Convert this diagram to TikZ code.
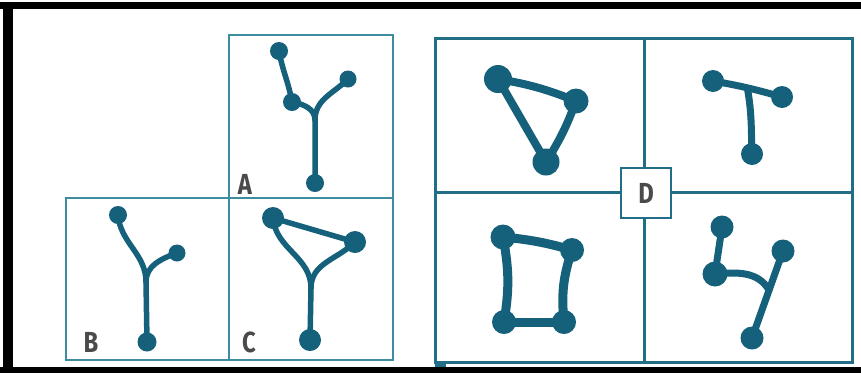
\documentclass[tikz,border=0pt]{standalone}
\usepackage{fontspec}
\setsansfont{Fira Sans}
\usepackage{graphicx}
\usepackage{tikz}
\usetikzlibrary{calc}
\definecolor{graphc}{HTML}{15607A}
\definecolor{framec}{HTML}{3D8C9F}
\definecolor{gridc}{HTML}{226E86}
\definecolor{letterc}{HTML}{4A4A4A}
\newcommand{\narrow}[1]{\scalebox{0.82}[1]{#1}}

\begin{document}
\begin{tikzpicture}[x=1pt, y=-1pt,
    dot/.style={circle, fill=graphc, inner sep=0pt, minimum size=#1},
    edge/.style={draw=graphc, line width=#1, line cap=round},
    edge/.default=5.5pt,
    letter/.style={font=\sffamily\bfseries\fontsize{29}{29}\selectfont, text=letterc, inner sep=0pt}]
    \useasboundingbox (0,0) rectangle (861,373);
    \fill[white] (0,0) rectangle (861,373);
    \fill[black] (0,2) rectangle (861,9);
    \fill[black] (3,2) rectangle (13,373);
    \fill[black] (0,367) rectangle (861,373);

    % left boxes
    \draw[framec, line width=2pt] (229,35) rectangle (393,198);
    \draw[framec, line width=2pt] (66,198) rectangle (229,360);
    \draw[framec, line width=2pt] (229,198) rectangle (393,360);
    \node[letter] (lA) at (245,184) {\narrow{A}};
    \node[letter] (lB) at (91,342) {\narrow{B}};
    \node[letter] (lC) at (249,342) {\narrow{C}};

    % A
    \node[dot=18pt] (a1) at (279,51) {};
    \node[dot=18pt] (a2) at (292,102) {};
    \node[dot=17pt] (a3) at (348,79) {};
    \node[dot=18pt] (a4) at (315,183) {};
    \coordinate (ja) at (315,120);
    \draw[edge] (a1.center) to[out=-80,in=100] (a2.center);
    \draw[edge] (a2.center) to[out=-10,in=90] (ja) -- (a4.center);
    \draw[edge] (a3.center) to[out=225,in=90] (ja);

    % B
    \node[dot=18pt] (b1) at (118,215) {};
    \node[dot=17pt] (b2) at (177,253) {};
    \node[dot=19pt] (b3) at (147,342) {};
    \coordinate (jb) at (146,282);
    \draw[edge] (b1.center) to[out=-85,in=90] (jb) -- (b3.center);
    \draw[edge] (b2.center) to[out=200,in=90] (jb);

    % C
    \node[dot=22pt] (c1) at (273,218) {};
    \node[dot=22pt] (c2) at (355,242) {};
    \node[dot=22pt] (c3) at (310,340) {};
    \coordinate (jc) at (311,288);
    \draw[edge] (c1.center) -- (c2.center);
    \draw[edge] (c1.center) to[out=-85,in=90] (jc) -- (c3.center);
    \draw[edge] (c2.center) to[out=225,in=90] (jc);

    % D grid
    \draw[gridc, line width=3pt] (435,38) rectangle (852,362);
    \draw[gridc, line width=3pt] (644,38) -- (644,362);
    \draw[gridc, line width=3pt] (435,192) -- (852,192);
    \fill[gridc] (435,362) rectangle (446,367);
    \node[letter, draw=gridc, fill=white, line width=2.5pt, minimum size=50pt] (dbox) at (646,193) {\narrow{D}};

    % D top left
    \node[dot=28pt] (d1) at (498,79) {};
    \node[dot=25pt] (d2) at (576,101) {};
    \node[dot=27pt] (d3) at (546,162) {};
    \draw[edge=8pt] (d1.center) to[bend left=6] (d2.center);
    \draw[edge=8pt] (d2.center) to[bend left=6] (d3.center);
    \draw[edge=8pt] (d1.center) -- (d3.center);

    % D top right
    \node[dot=22pt] (e1) at (713,81) {};
    \node[dot=22pt] (e2) at (782,97) {};
    \node[dot=22pt] (e3) at (752,154) {};
    \coordinate (je) at ($(e1)!0.5!(e2)$);
    \draw[edge=7pt] (e1.center) to[bend left=3] (e2.center);
    \draw[edge=7pt] (je) to[out=-80,in=92] (e3.center);

    % D bottom left
    \node[dot=25pt] (f1) at (503,237) {};
    \node[dot=24pt] (f2) at (572,250) {};
    \node[dot=24pt] (f3) at (564,322) {};
    \node[dot=24pt] (f4) at (504,322) {};
    \draw[edge=9pt] (f1.center) to[bend left=5] (f2.center);
    \draw[edge=9pt] (f2.center) to[bend right=12] (f3.center);
    \draw[edge=9pt] (f3.center) -- (f4.center);
    \draw[edge=9pt] (f4.center) to[bend right=10] (f1.center);

    % D bottom right
    \node[dot=23pt] (g1) at (722,227) {};
    \node[dot=25pt] (g2) at (715,274) {};
    \node[dot=23pt] (g3) at (783,251) {};
    \node[dot=23pt] (g4) at (752,338) {};
    \coordinate (jg) at ($(g3)!0.45!(g4)$);
    \draw[edge=7pt] (g1.center) -- (g2.center);
    \draw[edge=7pt] (g3.center) -- (g4.center);
    \draw[edge=7pt] (g2.center) to[out=5,in=120] (jg);
\end{tikzpicture}
\end{document}
